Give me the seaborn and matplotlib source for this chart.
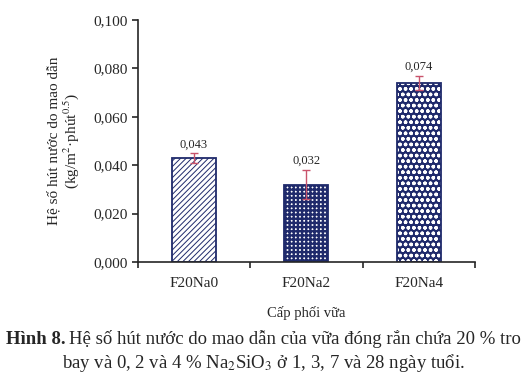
import numpy as np
import pandas as pd
import matplotlib
matplotlib.use("Agg")
import matplotlib.pyplot as plt
import seaborn as sns

# du lieu doc tu hinh
mixes = ["F20Na0", "F20Na2", "F20Na4"]
coef = [0.043, 0.032, 0.074]
err = [0.002, 0.006, 0.003]
labels = ["0,043", "0,032", "0,074"]
yticks = [0.0, 0.02, 0.04, 0.06, 0.08, 0.10]
ytick_labels = ["0,000", "0,020", "0,040", "0,060", "0,080", "0,100"]

navy = "#1f2a6b"
err_col = "#c9546c"

sns.set_style("ticks")
plt.rcParams["font.family"] = ["Liberation Serif", "DejaVu Serif"]
plt.rcParams["mathtext.fontset"] = "stix"
plt.rcParams["hatch.linewidth"] = 1.0

df = pd.DataFrame({"mix": mixes, "coef": coef})

fig = plt.figure(figsize=(5.26, 3.83), dpi=100)
ax = fig.add_axes([0.262, 0.316, 0.641, 0.632])

sns.barplot(data=df, x="mix", y="coef", ax=ax, width=0.39, errorbar=None,
            color="white", saturation=1)

# motif cho tung cot
styles = [("white", navy, "//////", 0.7),
          ("white", navy, "++++", 1.7),
          (navy, "white", "ooo", 1.0)]
for p, (fc, ec, h, hw) in zip(ax.patches, styles):
    p.set_facecolor(fc)
    p.set_edgecolor(ec)
    p.set_hatch(h)
    p.set_linewidth(0)
    if hasattr(p, "set_hatch_linewidth"):
        p.set_hatch_linewidth(hw)

# vien xanh
sns.barplot(data=df, x="mix", y="coef", ax=ax, width=0.39, errorbar=None,
            fill=False, color=navy, linewidth=1.3)

xs = np.arange(len(mixes))
ax.errorbar(xs, coef, yerr=err, fmt="none", ecolor=err_col, elinewidth=1.0,
            capsize=3, capthick=1.0, zorder=5)

for x, v, e, t in zip(xs, coef, err, labels):
    ax.annotate(t, (x, v + e), xytext=(0, 2), textcoords="offset points",
                ha="center", va="bottom", fontsize=9)

ax.set_ylim(0, 0.1)
ax.set_xlim(-0.5, 2.5)
ax.set_yticks(yticks)
ax.set_yticklabels(ytick_labels, fontsize=11)
ax.set_xticks(xs)
ax.set_xticklabels(mixes, fontsize=11)
ax.tick_params(axis="x", which="major", length=0, pad=11)
ax.set_xticks([-0.5, 0.5, 1.5, 2.5], minor=True)
ax.tick_params(axis="x", which="minor", length=4, width=1.2, direction="out")
ax.tick_params(axis="y", length=4, width=1.2, direction="out")
for s in ["left", "bottom"]:
    ax.spines[s].set_linewidth(1.2)
sns.despine(ax=ax)

ax.set_xlabel("Cấp phối vữa", fontsize=10.5, labelpad=11)
ax.set_ylabel("Hệ số hút nước do mao dẫn\n(kg/m$^{2}$·phút$^{0.5}$)", fontsize=11,
              labelpad=9, linespacing=1.0)

# chu thich hinh
fig.text(66 / 526, 1 - 339 / 383, "Hình 8.", fontweight="bold", fontsize=13.5,
         ha="right", va="center")
fig.text(69 / 526, 1 - 339 / 383,
         "Hệ số hút nước do mao dẫn của vữa đóng rắn chứa 20 % tro",
         fontsize=13.5, ha="left", va="center")
fig.text(0.5, 1 - 363 / 383,
         "bay và 0, 2 và 4 % Na$_{2}$SiO$_{3}$ ở 1, 3, 7 và 28 ngày tuổi.",
         fontsize=13.5, ha="center", va="center")

fig.savefig("out.png", dpi=100)
